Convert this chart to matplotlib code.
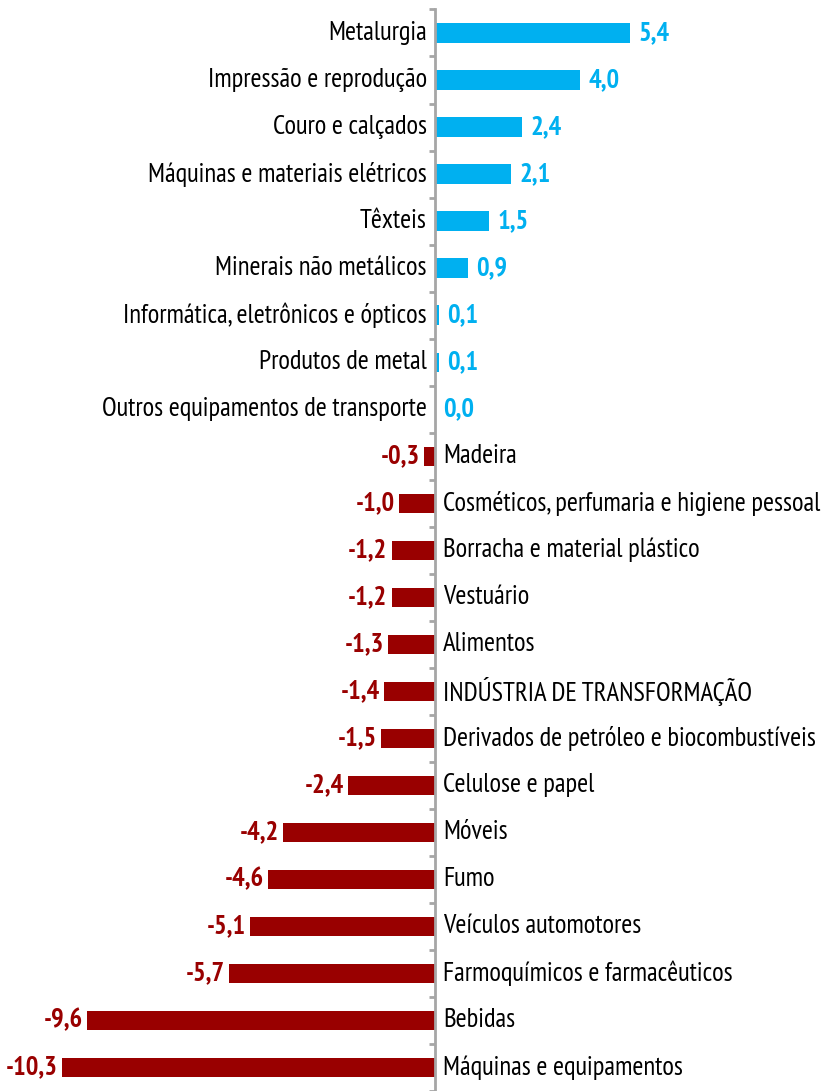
import matplotlib
matplotlib.use('Agg')
import matplotlib.pyplot as plt
from matplotlib import font_manager

# datos
categorias = ['Metalurgia', 'Impressão e reprodução', 'Couro e calçados',
              'Máquinas e materiais elétricos', 'Têxteis', 'Minerais não metálicos',
              'Informática, eletrônicos e ópticos', 'Produtos de metal',
              'Outros equipamentos de transporte', 'Madeira',
              'Cosméticos, perfumaria e higiene pessoal', 'Borracha e material plástico',
              'Vestuário', 'Alimentos', 'INDÚSTRIA DE TRANSFORMAÇÃO',
              'Derivados de petróleo e biocombustíveis', 'Celulose e papel', 'Móveis',
              'Fumo', 'Veículos automotores', 'Farmoquímicos e farmacêuticos',
              'Bebidas', 'Máquinas e equipamentos']
valores = [5.4, 4.0, 2.4, 2.1, 1.5, 0.9, 0.1, 0.1, 0.0, -0.3, -1.0, -1.2, -1.2,
           -1.3, -1.4, -1.5, -2.4, -4.2, -4.6, -5.1, -5.7, -9.6, -10.3]

# fuente estrecha si existe
nombres = {f.name for f in font_manager.fontManager.ttflist}
fuente = 'DejaVu Sans'
tam = 13
for nom, t in [('PT Sans Narrow', 19.2), ('Roboto Condensed', 17),
               ('Liberation Sans Narrow', 17), ('Open Sans Condensed', 17)]:
    if nom in nombres:
        fuente, tam = nom, t
        break
plt.rcParams['font.family'] = [fuente, 'DejaVu Sans']

azul = '#00B0F0'
rojo = '#990000'
gris = '#A6A6A6'

fig = plt.figure(figsize=(8.26, 10.91), dpi=100)
ax = fig.add_axes([0, 0, 1, 1])

y = list(range(len(categorias)))
colores = [azul if v >= 0 else rojo for v in valores]
ax.barh(y, valores, height=0.41, color=colores)

# escala: 36.2 px por unidad, eje en x=435; 47.05 px por categoria
ax.set_xlim(-435 / 36.2, (826 - 435) / 36.2)
ax.set_ylim((1091 - 33) / 47.05, -33 / 47.05)

for i, (c, v) in enumerate(zip(categorias, valores)):
    txt = f'{v:.1f}'.replace('.', ',')
    if v >= 0:
        ax.annotate(c, (0, i), xytext=(-6, 0), textcoords='offset points',
                    ha='right', va='center', fontsize=tam)
        ax.annotate(txt, (v, i), xytext=(6, 0), textcoords='offset points',
                    ha='left', va='center', fontsize=tam, fontweight='bold', color=azul)
    else:
        ax.annotate(c, (0, i), xytext=(6, 0), textcoords='offset points',
                    ha='left', va='center', fontsize=tam)
        ax.annotate(txt, (v, i), xytext=(-3, 0), textcoords='offset points',
                    ha='right', va='center', fontsize=tam, fontweight='bold', color=rojo)

for s in ['top', 'right', 'bottom']:
    ax.spines[s].set_visible(False)
ax.spines['left'].set_position(('data', 0))
ax.spines['left'].set_bounds(-0.5, (1091 - 33) / 47.05)
ax.spines['left'].set_color(gris)
ax.spines['left'].set_linewidth(2)
ax.set_xticks([])
ax.set_yticks([i - 0.5 for i in range(len(categorias) + 1)])
ax.set_yticklabels([])
ax.tick_params(axis='y', direction='out', length=4, width=2, color=gris)

fig.savefig('out.png', dpi=100)
